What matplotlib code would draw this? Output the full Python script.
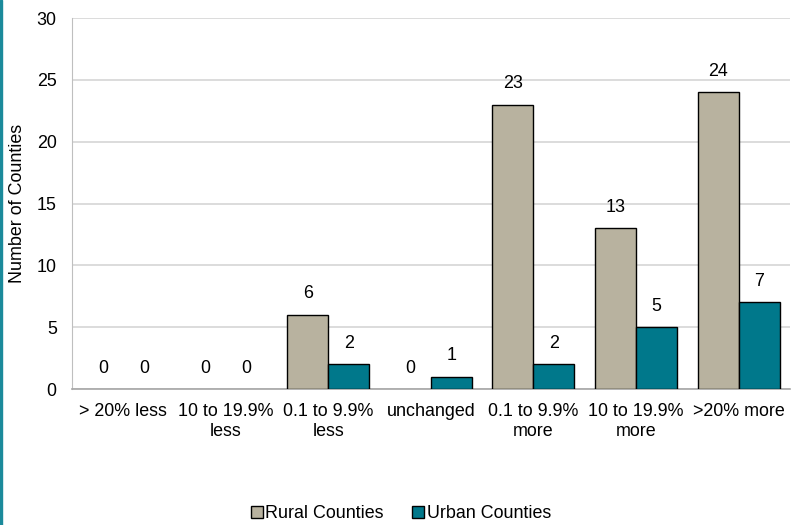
import matplotlib
matplotlib.use("Agg")
import matplotlib.pyplot as plt
import numpy as np
from matplotlib.patches import Rectangle

categories = ["> 20% less", "10 to 19.9%\nless", "0.1 to 9.9%\nless", "unchanged",
              "0.1 to 9.9%\nmore", "10 to 19.9%\nmore", ">20% more"]
rural = [0, 0, 6, 0, 23, 13, 24]
urban = [0, 0, 2, 1, 2, 5, 7]
series_names = ["Rural Counties", "Urban Counties"]
y_ticks = [0, 5, 10, 15, 20, 25, 30]

rural_color = "#B8B29F"
urban_color = "#00788B"

plt.rcParams["font.family"] = ["Liberation Sans", "DejaVu Sans"]
fs = 12.9

fig = plt.figure(figsize=(7.94, 5.25), dpi=100)
ax = fig.add_axes([0.0907, 0.259, 0.904, 0.7067])

x = np.arange(len(categories))
w = 0.4
b1 = ax.bar(x - w / 2, rural, w, color=rural_color, edgecolor="black", linewidth=1.0,
            label=series_names[0], zorder=3)
b2 = ax.bar(x + w / 2, urban, w, color=urban_color, edgecolor="black", linewidth=1.0,
            label=series_names[1], zorder=3)

for bars, vals in ((b1, rural), (b2, urban)):
    for rect, v in zip(bars, vals):
        if v == 0:
            rect.set_linewidth(0)
        ax.annotate(str(v), (rect.get_x() + rect.get_width() / 2, v),
                    xytext=(0, 9), textcoords="offset points",
                    ha="center", va="bottom", fontsize=fs, color="black")

ax.set_xlim(-0.5, len(categories) - 0.5)
ax.set_ylim(0, 30)
ax.set_yticks(y_ticks)
ax.set_xticks(x)
ax.set_xticklabels(categories, fontsize=fs)
ax.tick_params(axis="y", length=0, pad=11, labelsize=fs)
ax.tick_params(axis="x", length=0, pad=10)
ax.yaxis.grid(True, color="#D9D9D9", linewidth=1.3, zorder=0)
ax.set_axisbelow(True)
for s in ("top", "right"):
    ax.spines[s].set_visible(False)
ax.spines["left"].set_color("#BFBFBF")
ax.spines["bottom"].set_color("#A6A6A6")
ax.spines["bottom"].set_linewidth(1.2)
ax.set_ylabel("Number of Counties", fontsize=fs, labelpad=8)

leg = fig.legend(handles=[b1, b2], labels=series_names, loc="center",
                 bbox_to_anchor=(0.505, 0.022), ncol=2, frameon=False, fontsize=fs,
                 handlelength=0.65, handleheight=0.65, handletextpad=0.15,
                 columnspacing=1.6)
for h in leg.legend_handles:
    h.set_linewidth(1.0)

# teal accent strip along the left edge
fig.patches.append(Rectangle((0, 0), 2.2 / 794, 1, transform=fig.transFigure,
                             color="#1B8A9B", zorder=10))

fig.savefig("out.png", dpi=100)
